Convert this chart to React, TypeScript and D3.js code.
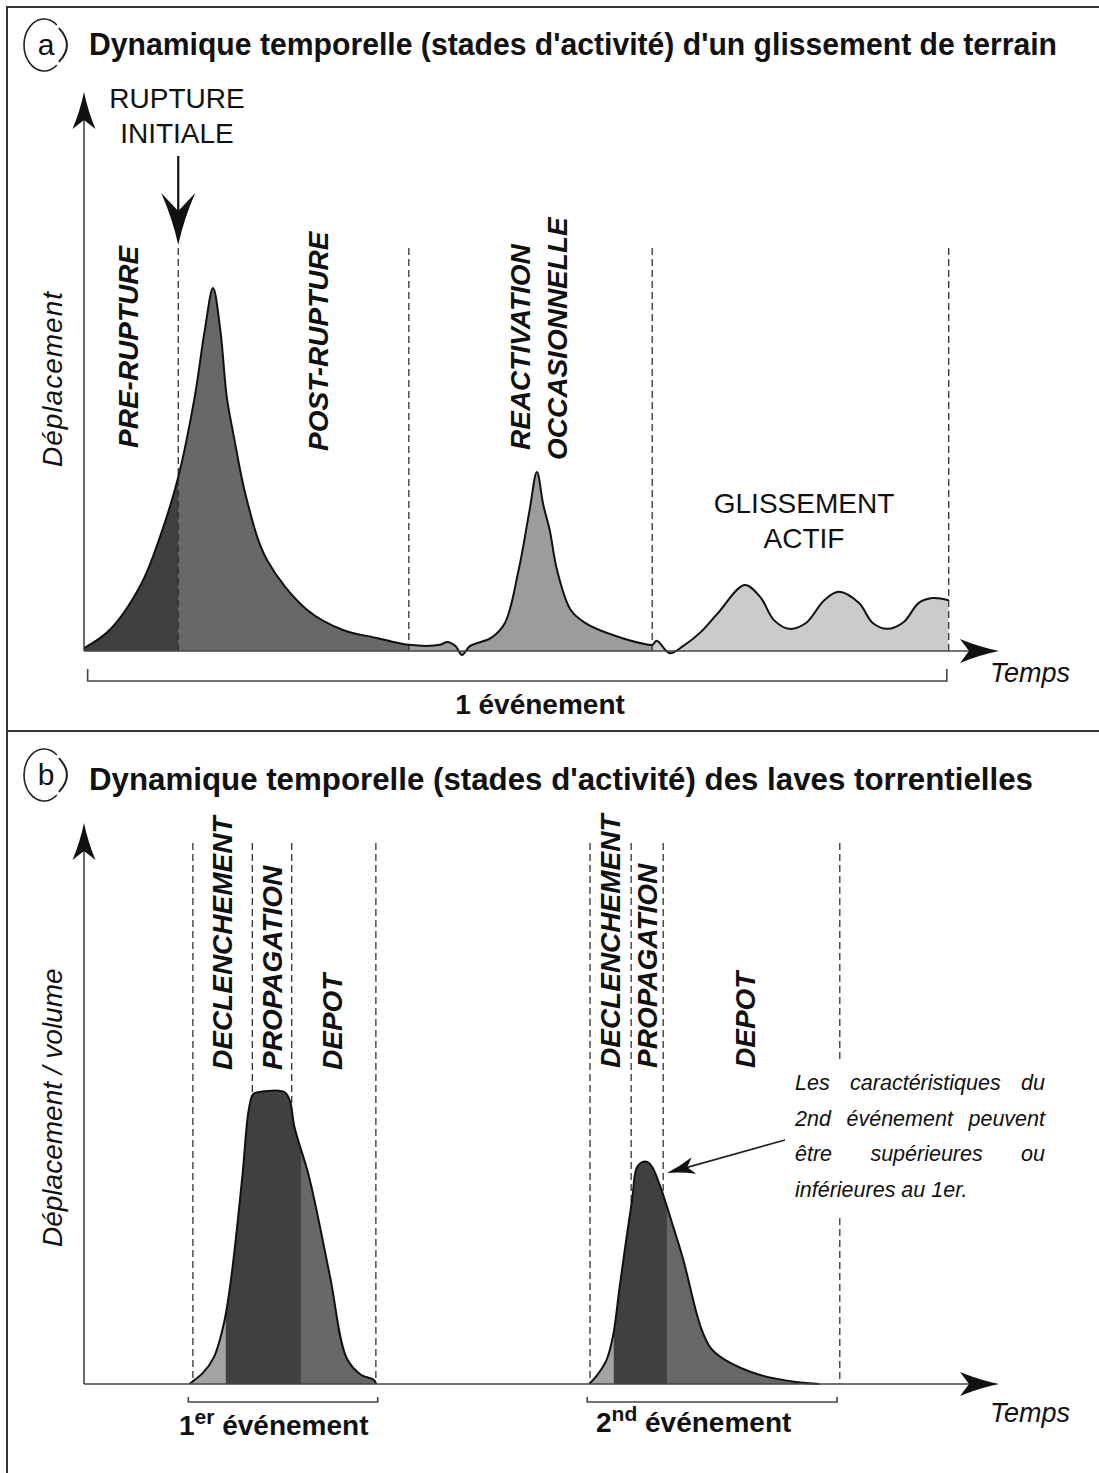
import { useRef, useEffect } from 'react';
import * as d3 from 'd3';

const W = 1099;
const H = 1473;
const FONT = 'Liberation Sans, Arial, Helvetica, sans-serif';

// (a) glissement de terrain : temps (0-100) / deplacement (0-100, unites relatives)
const timeA = [0, 2.8, 6.3, 8.3, 10.3, 12.1, 13.2, 14.1, 14.9, 15.6, 16.3, 17.8, 20.0, 24.4, 28.3, 32.0, 35.5, 38.9, 39.7, 40.6, 41.3, 42.2, 44.5, 46.0, 47.5, 48.7, 49.5, 50.2, 50.9, 51.7, 53.2, 54.8, 57.8, 61.3, 62.1, 62.6, 64.0, 65.5, 67.4, 69.3, 72.2, 73.9, 75.4, 77.1, 78.9, 80.9, 82.5, 84.7, 86.2, 87.8, 89.6, 91.2, 92.7, 94.5];
const dispA = [0.8, 5.8, 18.7, 31.4, 47.9, 70.0, 88.4, 100, 88.4, 70.0, 60.1, 41.6, 25.1, 11.3, 5.8, 3.6, 1.7, 1.7, 2.5, 1.4, -1.1, 1.4, 3.6, 7.7, 22.3, 38.8, 49.3, 40.2, 33.3, 22.3, 11.3, 7.7, 4.4, 1.9, 1.7, 2.8, -0.6, 1.4, 5.2, 10.5, 18.2, 14.9, 8.5, 6.1, 7.7, 14.0, 16.3, 13.2, 7.7, 6.1, 8.0, 13.2, 14.6, 14.0];
const phaseBoundsA = [0, 10.3, 35.5, 62.1, 94.5];
const phaseFillsA = ['#404040', '#686868', '#9c9c9c', '#cbcbcb'];
const phaseLabelsA = ['PRE-RUPTURE', 'POST-RUPTURE'];
const dashedA = [10.3, 35.5, 62.1, 94.5];
const eventA = [0.4, 94.3];

// (b) laves torrentielles : deux evenements
const time1 = [11.5, 11.8, 13.0, 14.2, 15.3, 16.1, 17.3, 18.0, 18.5, 19.2, 21.9, 22.5, 23.0, 24.6, 26.9, 28.7, 30.3, 31.7, 31.9];
const disp1 = [0, 0.7, 3.8, 9.2, 20.9, 36.6, 70.9, 93.8, 99.3, 100, 100, 97.0, 88.0, 70.9, 36.6, 8.9, 3.1, 1.4, 0];
const time2 = [55.2, 56.0, 57.1, 57.8, 58.5, 59.1, 59.9, 60.4, 61.0, 61.6, 62.1, 63.0, 64.4, 65.5, 67.4, 68.5, 70.1, 73.9, 77.8, 80.4];
const disp2 = [0, 2.7, 8.2, 16.1, 32.2, 45.9, 63.0, 74.0, 76.0, 76.0, 74.3, 67.5, 53.8, 42.5, 19.5, 12.3, 8.2, 3.1, 0.7, 0];
const phaseBounds1 = [11.5, 15.5, 23.7, 31.9];
const phaseBounds2 = [55.2, 57.9, 63.7, 80.4];
const phaseFillsB = ['#a3a3a3', '#404040', '#686868'];
const phaseLabelsB = ['DECLENCHEMENT', 'PROPAGATION', 'DEPOT'];
const dashed1 = [11.9, 18.4, 22.7, 31.9];
const dashed2 = [55.3, 59.8, 63.3, 82.6];
const eventsB = [[11.4, 32.1], [55.0, 82.3]];

const titleA = "Dynamique temporelle (stades d'activité) d'un glissement de terrain";
const titleB = "Dynamique temporelle (stades d'activité) des laves torrentielles";
const calloutLines = ['Les caractéristiques du', '2nd événement peuvent', 'être supérieures ou', 'inférieures au 1er.'];

// pointe de fleche a flancs concaves
function arrowPath(tx: number, ty: number, dx: number, dy: number, len: number, half: number, notch: number) {
    const px = -dy, py = dx;
    const bx = tx - dx * len, by = ty - dy * len;
    const nx = tx - dx * notch, ny = ty - dy * notch;
    const mx = tx - dx * len * 0.5, my = ty - dy * len * 0.5;
    const k = half * 0.33;
    return `M${tx},${ty} Q${mx + px * k},${my + py * k} ${bx + px * half},${by + py * half} L${nx},${ny} ` +
        `L${bx - px * half},${by - py * half} Q${mx - px * k},${my - py * k} ${tx},${ty} Z`;
}

export default function App() {
    const svgRef = useRef<SVGSVGElement | null>(null);

    useEffect(() => {
        if (!svgRef.current) return;
        const svg = d3.select(svgRef.current);
        svg.selectAll('*').remove();
        const defs = svg.append('defs');

        const xT = d3.scaleLinear().domain([0, 100]).range([84, 999]);
        const yA = d3.scaleLinear().domain([0, 100]).range([651, 288]);
        const yB = d3.scaleLinear().domain([0, 100]).range([1384, 1092]);
        const curve = d3.curveCatmullRom.alpha(0.5);

        // cadre
        svg.append('path')
            .attr('d', `M${W},7H7V${H}`)
            .attr('fill', 'none').attr('stroke', '#333').attr('stroke-width', 2);
        svg.append('line')
            .attr('x1', 7).attr('x2', W).attr('y1', 731).attr('y2', 731)
            .attr('stroke', '#333').attr('stroke-width', 2);

        // titres
        const heading = (letter: string, cy: number, base: number, title: string, len: number) => {
            const cx = 44, rx = 20, ry = 26, a = 50 * Math.PI / 180;
            const x1 = cx + rx * Math.cos(a);
            const yt = cy - ry * Math.sin(a), yb = cy + ry * Math.sin(a);
            svg.append('path')
                .attr('d', `M${x1},${yt} A${rx},${ry} 0 1 0 ${x1},${yb}`)
                .attr('fill', 'none').attr('stroke', '#222').attr('stroke-width', 1.6);
            svg.append('path')
                .attr('d', `M${x1 + 2},${yt + 3} Q${cx + rx + 11},${cy} ${x1 + 2},${yb - 3}`)
                .attr('fill', 'none').attr('stroke', '#222').attr('stroke-width', 2);
            svg.append('text')
                .attr('x', 46).attr('y', cy + 10)
                .attr('text-anchor', 'middle')
                .style('font', `30px ${FONT}`).attr('fill', '#111')
                .text(letter);
            svg.append('text')
                .attr('x', 89).attr('y', base)
                .attr('textLength', len).attr('lengthAdjust', 'spacingAndGlyphs')
                .style('font', `bold 31px ${FONT}`).attr('fill', '#111')
                .text(title);
        };
        heading('a', 45, 55, titleA, 968);
        heading('b', 775, 790, titleB, 944);

        const dash = (x: number, y1: number, y2: number) => {
            svg.append('line')
                .attr('x1', x).attr('x2', x).attr('y1', y1).attr('y2', y2)
                .attr('stroke', '#333').attr('stroke-width', 1.3)
                .attr('stroke-dasharray', '7,4');
        };

        // profil colore par phases
        const profile = (id: string, times: number[], vals: number[], bounds: number[], fills: string[], y: d3.ScaleLinear<number, number>) => {
            const pts = times.map((t, i) => [t, vals[i]]);
            const area = d3.area<number[]>()
                .x(d => xT(d[0])).y0(y(0)).y1(d => y(d[1])).curve(curve);
            fills.forEach((f, i) => {
                const x0 = xT(bounds[i]);
                const x1 = xT(bounds[i + 1]);
                defs.append('clipPath').attr('id', `${id}-${i}`)
                    .append('rect')
                    .attr('x', x0).attr('y', 0)
                    .attr('width', x1 - x0 + (i < fills.length - 1 ? 0.6 : 0)).attr('height', H);
                svg.append('path').datum(pts)
                    .attr('d', area)
                    .attr('fill', f)
                    .attr('clip-path', `url(#${id}-${i})`);
            });
            return pts;
        };
        const outline = (pts: number[][], y: d3.ScaleLinear<number, number>) => {
            svg.append('path').datum(pts)
                .attr('d', d3.line<number[]>().x(d => xT(d[0])).y(d => y(d[1])).curve(curve))
                .attr('fill', 'none').attr('stroke', '#111')
                .attr('stroke-width', 2).attr('stroke-linejoin', 'round');
        };

        const axes = (y: d3.ScaleLinear<number, number>, top: number) => {
            const y0 = y(0);
            svg.append('line')
                .attr('x1', xT(0)).attr('x2', xT(0)).attr('y1', y0).attr('y2', top + 28)
                .attr('stroke', '#444').attr('stroke-width', 1.6);
            svg.append('line')
                .attr('x1', xT(0)).attr('x2', xT(100) - 30).attr('y1', y0).attr('y2', y0)
                .attr('stroke', '#444').attr('stroke-width', 1.6);
            svg.append('path').attr('d', arrowPath(xT(0), top, 0, -1, 37, 11.5, 28)).attr('fill', '#111');
            svg.append('path').attr('d', arrowPath(xT(100), y0, 1, 0, 39, 12, 30)).attr('fill', '#111');
        };

        const vText = (x: number, y: number, txt: string, font: string, len?: number) => {
            const t = svg.append('text')
                .attr('transform', `translate(${x},${y}) rotate(-90)`)
                .style('font', font).attr('fill', '#111')
                .text(txt);
            if (len) t.attr('textLength', len);
        };
        const hText = (x: number, y: number, txt: string, font: string, anchor = 'middle') => {
            svg.append('text')
                .attr('x', x).attr('y', y).attr('text-anchor', anchor)
                .style('font', font).attr('fill', '#111')
                .text(txt);
        };
        const labelFont = `italic bold 28px ${FONT}`;

        // ---------- (a) ----------
        const ptsA = profile('pa', timeA, dispA, phaseBoundsA, phaseFillsA, yA);
        dashedA.forEach(t => dash(xT(t), 248, yA(0)));
        outline(ptsA, yA);
        axes(yA, 92);

        // rupture initiale
        svg.append('line')
            .attr('x1', xT(dashedA[0])).attr('x2', xT(dashedA[0])).attr('y1', 156).attr('y2', 215)
            .attr('stroke', '#111').attr('stroke-width', 2.2);
        svg.append('path').attr('d', arrowPath(xT(dashedA[0]), 245, 0, 1, 52, 17, 34)).attr('fill', '#111');
        hText(177, 108, 'RUPTURE', `28px ${FONT}`);
        hText(177, 143, 'INITIALE', `28px ${FONT}`);

        vText(138, 448, phaseLabelsA[0], labelFont);
        vText(328, 451, phaseLabelsA[1], labelFont);
        vText(530, 450, 'REACTIVATION', labelFont);
        vText(567, 460, 'OCCASIONNELLE', labelFont);
        hText(804, 513, 'GLISSEMENT', `28px ${FONT}`);
        hText(804, 548, 'ACTIF', `28px ${FONT}`);

        vText(62, 467, 'Déplacement', `italic 28px ${FONT}`, 175);
        hText(990, 682, 'Temps', `italic 27px ${FONT}`, 'start');

        svg.append('path')
            .attr('d', `M${xT(eventA[0])},669V681H${xT(eventA[1])}V669`)
            .attr('fill', 'none').attr('stroke', '#444').attr('stroke-width', 1.6);
        hText(540, 714, '1 événement', `bold 28px ${FONT}`);

        // ---------- (b) ----------
        [dashed1, dashed2].forEach((ds, e) => ds.forEach((t, i) => {
            if (e === 1 && i === ds.length - 1) {
                dash(xT(t), 843, 1063);
                dash(xT(t), 1218, yB(0));
            } else {
                dash(xT(t), 843, yB(0));
            }
        }));
        const pts1 = profile('pb1', time1, disp1, phaseBounds1, phaseFillsB, yB);
        const pts2 = profile('pb2', time2, disp2, phaseBounds2, phaseFillsB, yB);
        outline(pts1, yB);
        outline(pts2, yB);
        axes(yB, 823);

        vText(232, 1070, phaseLabelsB[0], labelFont);
        vText(282, 1070, phaseLabelsB[1], labelFont);
        vText(342, 1070, phaseLabelsB[2], labelFont);
        vText(620, 1068, phaseLabelsB[0], labelFont);
        vText(657, 1068, phaseLabelsB[1], labelFont);
        vText(755, 1068, phaseLabelsB[2], labelFont);

        vText(62, 1247, 'Déplacement / volume', `italic 28px ${FONT}`);
        hText(990, 1422, 'Temps', `italic 27px ${FONT}`, 'start');

        eventsB.forEach(([a, b]) => {
            svg.append('path')
                .attr('d', `M${xT(a)},1397V1402H${xT(b)}V1397`)
                .attr('fill', 'none').attr('stroke', '#444').attr('stroke-width', 1.6);
        });
        const evLabel = (x: number, y: number, num: string, sup: string) => {
            const t = svg.append('text')
                .attr('x', x).attr('y', y)
                .style('font', `bold 28px ${FONT}`).attr('fill', '#111');
            t.append('tspan').text(num);
            t.append('tspan').attr('dy', -11).style('font-size', '21px').text(sup);
            t.append('tspan').attr('dy', 11).text(' événement');
        };
        evLabel(179, 1435, '1', 'er');
        evLabel(596, 1432, '2', 'nd');

        // annotation justifiee
        const cx0 = 795, cx1 = 1045;
        calloutLines.forEach((line, i) => {
            const yb = 1090 + i * 35.7;
            const words = line.split(' ');
            if (i === calloutLines.length - 1) {
                hText(cx0, yb, line, `italic 21.5px ${FONT}`, 'start');
                return;
            }
            const nodes = words.map(w => svg.append('text')
                .attr('y', yb)
                .style('font', `italic 21.5px ${FONT}`).attr('fill', '#111')
                .text(w));
            const widths = nodes.map(n => (n.node() as SVGTextElement).getComputedTextLength());
            const gap = (cx1 - cx0 - d3.sum(widths)) / (words.length - 1);
            let x = cx0;
            nodes.forEach((n, j) => {
                n.attr('x', x);
                x += widths[j] + gap;
            });
        });

        const tip = [667, 1173];
        const from = [785, 1140];
        const L = Math.hypot(tip[0] - from[0], tip[1] - from[1]);
        const ux = (tip[0] - from[0]) / L, uy = (tip[1] - from[1]) / L;
        svg.append('line')
            .attr('x1', from[0]).attr('y1', from[1])
            .attr('x2', tip[0] - ux * 20).attr('y2', tip[1] - uy * 20)
            .attr('stroke', '#222').attr('stroke-width', 1.6);
        svg.append('path').attr('d', arrowPath(tip[0], tip[1], ux, uy, 28, 8.5, 21)).attr('fill', '#111');
    }, []);

    return (
        <svg
            ref={svgRef}
            width={W}
            height={H}
            style={{ position: 'absolute', left: 0, top: 0, background: '#fff' }}
        />
    );
}
